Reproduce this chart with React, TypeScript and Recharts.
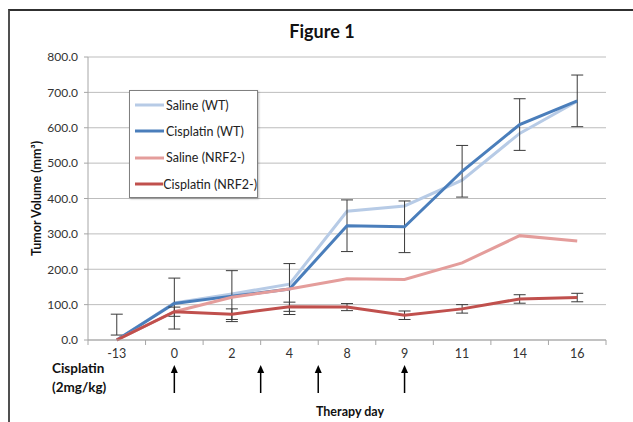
import React from 'react';
import { LineChart, Line, XAxis, YAxis, CartesianGrid, Legend, ErrorBar } from 'recharts';

// Therapy day categories and tumour volumes (mm³)
const days = ['-13', '0', '2', '4', '8', '9', '11', '14', '16'];
const dayNums = [-13, 0, 2, 4, 8, 9, 11, 14, 16];
const salineWT = [0, 105, 130, 158, 364, 379, 452, 584, 675];
const cisplatinWT = [0, 103, 124, 144, 323, 320, 477, 609, 676];
const salineNRF2 = [0, 80, 121, 144, 173, 171, 218, 295, 280];
const cisplatinNRF2 = [0, 80, 73, 94, 93, 70, 88, 116, 120];
// error bars: number = symmetric, [low, high] = asymmetric
const cisplatinWTErr: (number | [number, number])[] = [[-14, 73], 72, 72, 72, 73, 73, 73, 73, 73];
const cisplatinNRF2Err: (number | null)[] = [null, 13, 15, 13, 10, 12, 12, 12, 12];
const yTicks = [0, 100, 200, 300, 400, 500, 600, 700, 800];
// days on which cisplatin was given
const doseDays = [0, 3, 6, 9];

const series = [
  { key: 'salineWT', name: 'Saline (WT)', color: '#b7cbe6' },
  { key: 'cisplatinWT', name: 'Cisplatin (WT)', color: '#4a7ebb' },
  { key: 'salineNRF2', name: 'Saline (NRF2-)', color: '#e49d9b' },
  { key: 'cisplatinNRF2', name: 'Cisplatin (NRF2-)', color: '#c0504d' },
];

const data = days.map((day, i) => ({
  day,
  slot: i + 0.5,
  salineWT: salineWT[i],
  cisplatinWT: cisplatinWT[i],
  salineNRF2: salineNRF2[i],
  cisplatinNRF2: cisplatinNRF2[i],
  cisplatinWTErr: cisplatinWTErr[i],
  cisplatinNRF2Err: cisplatinNRF2Err[i],
}));

// slot position of a day that may fall between two categories
const slotOfDay = (d: number) => {
  for (let i = 0; i < dayNums.length - 1; i++) {
    const a = dayNums[i];
    const b = dayNums[i + 1];
    if (d >= a && d <= b) return i + (d - a) / (b - a) + 0.5;
  }
  return dayNums.length - 0.5;
};
const doseSlots = doseDays.map(slotOfDay);
const centerTicks = days.map((_, i) => i + 0.5);
const boundTicks = Array.from({ length: days.length + 1 }, (_, i) => i);
const allTicks = Array.from(new Set([...boundTicks, ...centerTicks, ...doseSlots])).sort((a, b) => a - b);

const font = 'Lato, "Open Sans", sans-serif';

// one tick renderer: boundary tick marks, day labels and dose arrows
const DayTick = (props: any) => {
  const { x, y, payload } = props;
  const v: number = payload.value;
  const isBound = Number.isInteger(v);
  const isCenter = !isBound && Math.abs(v - Math.floor(v) - 0.5) < 1e-6;
  const isDose = doseSlots.some((d) => Math.abs(d - v) < 1e-6);
  return (
    <g>
      {isBound && <line x1={x} y1={y} x2={x} y2={y + 5} stroke="#a6a6a6" />}
      {isCenter && (
        <text x={x} y={y + 18} textAnchor="middle" fontSize={12.5} fill="#333" fontFamily={font}>
          {days[Math.floor(v)]}
        </text>
      )}
      {isDose && (
        <g>
          <line x1={x} y1={y + 30} x2={x} y2={y + 53} stroke="#000" strokeWidth={1.5} />
          <polygon points={`${x},${y + 25} ${x - 3.5},${y + 33} ${x + 3.5},${y + 33}`} fill="#000" />
        </g>
      )}
    </g>
  );
};

const renderLegend = (props: any) => {
  const payload: any[] = props.payload || [];
  const order = series.map((s) => s.name);
  const items = [...payload].sort((a, b) => order.indexOf(a.value) - order.indexOf(b.value));
  return (
    <div
      style={{
        width: 127,
        height: 105,
        border: '1px solid #808080',
        background: '#fff',
        boxShadow: '1px 1px 2px rgba(0,0,0,0.25)',
        paddingTop: 1,
        whiteSpace: 'nowrap',
      }}
    >
      {items.map((entry: any) => (
        <div key={entry.value} style={{ display: 'flex', alignItems: 'center', height: 26.3 }}>
          <svg width={33} height={6} style={{ marginLeft: 3 }}>
            <line x1={2} y1={3} x2={31} y2={3} stroke={entry.color} strokeWidth={3} />
          </svg>
          <span style={{ fontSize: 12.5, color: '#222', fontFamily: font }}>{entry.value}</span>
        </div>
      ))}
    </div>
  );
};

export default function App() {
  return (
    <div style={{ position: 'absolute', left: 0, top: 0, width: 633, height: 422, background: '#fff', fontFamily: font, overflow: 'hidden' }}>
      <div style={{ position: 'absolute', left: 8, top: 9, width: 640, height: 430, borderLeft: '2px solid #505050', borderTop: '2px solid #303030' }} />
      <div style={{ position: 'absolute', left: 0, width: 644, top: 20, textAlign: 'center', fontSize: 18, fontWeight: 700, color: '#111' }}>
        Figure 1
      </div>
      <div style={{ position: 'absolute', left: 52, top: 359, fontSize: 13.5, fontWeight: 700, color: '#111', lineHeight: '19px' }}>
        Cisplatin
        <br />
        (2mg/kg)
      </div>
      <div style={{ position: 'absolute', left: 250, width: 200, top: 404, textAlign: 'center', fontSize: 12.5, fontWeight: 700, color: '#111' }}>
        Therapy day
      </div>
      <div style={{ position: 'absolute', left: 0, top: 0 }}>
        <LineChart width={633} height={422} data={data} margin={{ top: 57, right: 27, bottom: 81, left: 28 }}>
          <CartesianGrid vertical={false} stroke="#bdbdbd" />
          <XAxis
            dataKey="slot"
            type="number"
            domain={[0, days.length]}
            allowDataOverflow
            ticks={allTicks}
            interval={0}
            height={1}
            tickLine={false}
            tickSize={0}
            tickMargin={0}
            axisLine={{ stroke: '#a6a6a6' }}
            tick={DayTick}
          />
          <YAxis
            domain={[0, 800]}
            ticks={yTicks}
            width={60}
            tickSize={4}
            tickMargin={6}
            tickFormatter={(v: number) => v.toFixed(1)}
            axisLine={{ stroke: '#a6a6a6' }}
            tickLine={{ stroke: '#a6a6a6' }}
            tick={{ fill: '#333', fontSize: 12 }}
            label={(p: any) => {
              const vb = p.viewBox || { x: 28, y: 57, height: 283 };
              const cx = vb.x + 8;
              const cy = vb.y + vb.height / 2;
              return (
                <text
                  x={cx}
                  y={cy}
                  transform={`rotate(-90 ${cx} ${cy})`}
                  textAnchor="middle"
                  dominantBaseline="central"
                  fontSize={12.5}
                  fontWeight={700}
                  fill="#111"
                  fontFamily={font}
                >
                  Tumor Volume (mm³)
                </text>
              );
            }}
          />
          <Legend
            layout="vertical"
            align="center"
            verticalAlign="middle"
            content={renderLegend}
            wrapperStyle={{ position: 'absolute', left: 129, top: 90, width: 131 }}
          />
          {series.map((s) => (
            <Line
              key={s.key}
              type="linear"
              dataKey={s.key}
              name={s.name}
              stroke={s.color}
              strokeWidth={3}
              dot={false}
              activeDot={false}
              isAnimationActive={false}
            >
              {s.key === 'cisplatinWT' && (
                <ErrorBar dataKey="cisplatinWTErr" direction="y" width={6} stroke="#3a3a3a" strokeWidth={1} isAnimationActive={false} />
              )}
              {s.key === 'cisplatinNRF2' && (
                <ErrorBar dataKey="cisplatinNRF2Err" direction="y" width={6} stroke="#3a3a3a" strokeWidth={1} isAnimationActive={false} />
              )}
            </Line>
          ))}
        </LineChart>
      </div>
    </div>
  );
}
